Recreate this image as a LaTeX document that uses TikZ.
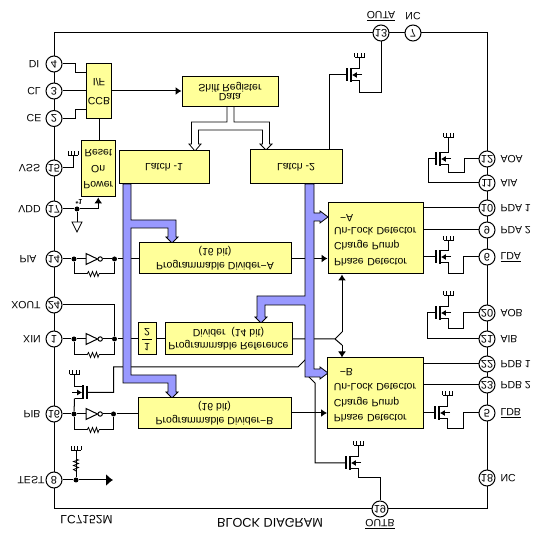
\documentclass[tikz,border=0pt]{standalone}
\usepackage{fontspec}
\setmainfont{Liberation Sans}
\usepackage{xcolor}
\usetikzlibrary{arrows.meta}
\pgfdeclarelayer{wires}
\pgfdeclarelayer{buses}
\pgfsetlayers{wires,buses,main}
\definecolor{blockyellow}{HTML}{FFFF99}
\definecolor{busblue}{HTML}{9999FF}
\newcommand{\fs}[2]{\fontsize{#1}{#2}\selectfont}
\newcommand{\ovl}[1]{$\overline{\mbox{#1}}$}
\tikzset{
  every path/.style={line width=1pt},
  flip/.style={yscale=-1,transform shape},
  pin/.style={flip,draw,circle,fill=white,minimum size=16pt,inner sep=0pt,font=\fs{11}{12}},
  lab/.style={flip,inner sep=0pt,font=\fs{10.5}{12}},
  block/.style={flip,draw,fill=blockyellow,inner sep=0pt,align=center,font=\fs{10.5}{14}},
  dot/.style={circle,fill=black,minimum size=5pt,inner sep=0pt},
  arr/.style={-{Latex[length=6pt,width=8pt]}},
  bus/.style={draw=black,fill=busblue,line width=.8pt},
  hollow/.style={draw=black,fill=white,line width=.8pt},
  gnd/.pic={\draw[line width=.7pt] (-5,0)--(5,0) (-5,0)--(-5,-4) (-1.7,0)--(-1.7,-4) (1.7,0)--(1.7,-4) (5,0)--(5,-4);},
  res/.pic={\coordinate (-a) at (-6,0); \coordinate (-b) at (6,0);
    \draw[line width=.8pt] (-6,0)--(-4.5,-2.5)--(-2.5,2.5)--(-.5,-2.5)--(1.5,2.5)--(3.5,-2.5)--(5,2.5)--(6,0);},
  inv/.pic={\coordinate (-a) at (0,0); \coordinate (-b) at (16.5,0);
    \draw (0,-5.5)--(11.5,0)--(0,5.5)--cycle (14.2,0) circle (2.2);},
  pics/fet/.style={code={
    \coordinate (-gate) at (0,0); \coordinate (-bot) at (12.5,6);
    \draw[line width=1.8pt] (0,-6.5)--(0,6.5);
    \draw[line width=1.4pt] (4,-7)--(4,7);
    \draw (4,-6)--(12.5,-6)--(12.5,-#1) (4,6)--(12.5,6);
    \draw[-{Latex[length=5pt,width=6pt]}] (15,0)--(4.8,0);
    \pic at (12.5,-#1) {gnd};}},
}
\begin{document}
\begin{tikzpicture}
[x=1pt,y=-1pt]
\useasboundingbox (0,0) rectangle (550,540);
% Outline of the chip
\node (chip) [draw,minimum width=433pt,minimum height=476pt,inner sep=0pt] at (270.5,271) {};

% Junctions
\node (d14) [dot] at (74,259) {};
\node (e14) [dot] at (114.5,259) {};
\node (d1) [dot] at (74,339) {};
\node (e1) [dot] at (114.5,339) {};
\node (d16) [dot] at (74,414) {};
\node (e16) [dot] at (113.5,414) {};
\node (d17) [dot] at (77,209) {};
\node (d8) [dot] at (76,480) {};

% Pins
\node (p4) [pin] at (54,64) {4};
\node (p3) [pin] at (54,91) {3};
\node (p2) [pin] at (54,118.5) {2};
\node (p15) [pin] at (54,168) {15};
\node (p17) [pin] at (54,209) {17};
\node (p14) [pin] at (54,259) {14};
\node (p24) [pin] at (54,305) {24};
\node (p1) [pin] at (54,339) {1};
\node (p16) [pin] at (54,414) {16};
\node (p8) [pin] at (54,480) {8};
\node (p13) [pin] at (381,33) {13};
\node (p7) [pin] at (413,33) {7};
\node (p12) [pin] at (487,159) {12};
\node (p11) [pin] at (487,183) {11};
\node (p10) [pin] at (487,208) {10};
\node (p9) [pin] at (487,230) {9};
\node (p6) [pin] at (487,257) {6};
\node (p20) [pin] at (487,313) {20};
\node (p21) [pin] at (487,339) {21};
\node (p22) [pin] at (487,364) {22};
\node (p23) [pin] at (487,385) {23};
\node (p5) [pin] at (487,413) {5};
\node (p18) [pin] at (487,478) {18};
\node (p19) [pin] at (380,509) {19};

% Pin names
\node (lDI) [lab] at (34,64) {DI};
\node (lCL) [lab] at (34,91) {CL};
\node (lCE) [lab] at (34,118.5) {CE};
\node (lVSS) [lab] at (29.5,168) {VSS};
\node (lVDD) [lab] at (29.5,209) {VDD};
\node (lPIA) [lab] at (28,259) {PIA};
\node (lXOUT) [lab] at (26,305) {XOUT};
\node (lXIN) [lab] at (32,339) {XIN};
\node (lPIB) [lab] at (32,414) {PIB};
\node (lTEST) [lab] at (31,480) {TEST};
\node (lOUTA) [lab] at (381,16) {\ovl{OUTA}};
\node (lNCa) [lab] at (413,16) {NC};
\node (lAOA) [lab,anchor=west] at (500,159) {AOA};
\node (lAIA) [lab,anchor=west] at (500,183) {AIA};
\node (lPDAa) [lab,anchor=west] at (500,208) {PDA 1};
\node (lPDAb) [lab,anchor=west] at (500,230) {PDA 2};
\node (lLDA) [lab,anchor=west] at (500,257) {\ovl{LDA}};
\node (lAOB) [lab,anchor=west] at (500,313) {AOB};
\node (lAIB) [lab,anchor=west] at (500,339) {AIB};
\node (lPDBa) [lab,anchor=west] at (500,364) {PDB 1};
\node (lPDBb) [lab,anchor=west] at (500,385) {PDB 2};
\node (lLDB) [lab,anchor=west] at (500,413) {\ovl{LDB}};
\node (lNCb) [lab,anchor=west] at (500,478) {NC};
\node (lOUTB) [lab] at (380,524) {\ovl{OUTB}};
\node (lchip) [lab,font=\fs{12}{14}] at (86.5,520) {LC7152M};
\node (ltitle) [lab,font=\fs{12.7}{14}] at (270,523) {BLOCK DIAGRAM};
\node (lstar) [lab,font=\bfseries\fs{7}{8}] at (79,201.5) {*1};

% Small parts
\pic (ia) at (86,259) {inv};
\pic (ib) at (86,339) {inv};
\pic (ic) at (86,414) {inv};
\pic (ra) at (93,274) {res};
\pic (rb) at (93,355) {res};
\pic (rc) at (93,430) {res};
\pic (rd) [rotate=90] at (76,465) {res};
\pic (fa) at (347,75) {fet=18};
\pic (fb) at (436,159) {fet=22};
\pic (fc) at (436,257) {fet=17};
\pic (fd) at (436,313) {fet=18};
\pic (fe) at (435,413) {fet=18};
\pic (ff) at (346,463) {fet=18};
\pic (fg) [xscale=-1] at (87,392.5) {fet=18};
\pic at (73,155) {gnd};
\pic at (76,450) {gnd};
\coordinate (gv) at (73,155);
\coordinate (gt) at (76,450);
\coordinate (tt) at (113,480);
\coordinate (vd) at (77,222);
\draw[line width=.8pt] (72,222)--(82,222)--(77,232)--cycle;

% Blocks
\node (ccb) [block,minimum width=24.5pt,minimum height=55pt,font=\fs{10.5}{19}] at (99,91.5) {CCB\\I/F};
\node (sreg) [block,minimum width=96pt,minimum height=30pt,font=\fs{10.5}{9.5}] at (230,91.5) {Data\\Shift Register};
\node (power) [block,minimum width=34.5pt,minimum height=56pt,font=\fs{10.5}{16}] at (98.25,169) {Power\\On\\Reset};
\node (latcha) [block,minimum width=90pt,minimum height=33pt] at (164,167.5) {Latch -1};
\node (latchb) [block,minimum width=92pt,minimum height=34pt] at (296,167) {Latch -2};
\node (diva) [block,minimum width=152pt,minimum height=31pt] at (215,258.5) {Programmable Divider−A\\(16 bit)};
\node (half) [block,minimum width=18pt,minimum height=32pt] at (147,339) {\begin{tabular}{@{\,}c@{\,}}1\\\hline 2\end{tabular}};
\node (refdiv) [block,minimum width=127pt,minimum height=32pt,font=\fs{10.5}{13}] at (228.5,339) {Programmable Reference\\Divider\ \ (14 bit)};
\node (divb) [block,minimum width=153pt,minimum height=31pt] at (214.5,413.5) {Programmable Divider−B\\(16 bit)};
\node (pda) [block,minimum width=95pt,minimum height=71pt,text width=83pt,align=left,font=\fs{10.5}{15.5}] at (375.5,238.5) {Phase Detector\\Charge Pump\\Un-Lock Detector\\[-2.5pt]\hspace*{6pt}−A\\[-12pt]\mbox{}};
\node (pdb) [block,minimum width=95.5pt,minimum height=71pt,text width=83pt,align=left,font=\fs{10.5}{15.5}] at (375.25,393.5) {Phase Detector\\Charge Pump\\Un-Lock Detector\\\hspace*{6pt}−B\\[-12pt]\mbox{}};

% Connections, drawn behind the pins, buses and blocks
\begin{pgfonlayer}{wires}
\draw (p4) -- (75.5,64) |- (ccb.west |- 0,73);
\draw (p3) -- (ccb.west |- p3);
\draw (p2) -- (75.5,118.5) |- (ccb.west |- 0,110);
\draw[arr] (ccb.east |- p3) -- (sreg.west |- p3);
\draw (ccb) -- (ccb |- power.south);
\draw (p15) -| (gv);
\draw (p17) -- (d17);
\draw[arr] (d17) -| (power.north);
\draw (d17) -- (vd);
\draw (p14) -- (d14) -- (ia-a);
\draw (ia-b) -- (e14) -- (diva.west |- e14);
\draw (d14) |- (ra-a);
\draw (ra-b) -| (e14);
\draw (p24) -| (e1);
\draw (p1) -- (d1) -- (ib-a);
\draw (ib-b) -- (e1) -- (half.west |- e1);
\draw (d1) |- (rb-a);
\draw (rb-b) -| (e1);
\draw (half) -- (refdiv);
\coordinate (fk) at (335,339);
\coordinate (fka) at (342,332);
\coordinate (fkb) at (342,345);
\draw (refdiv) -- (fk) -- (fka);
\draw (fk) -- (fkb);
\draw[arr] (fka) -- (fka |- pda.north);
\draw[arr] (fkb) -- (fkb |- pdb.south);
\draw (p16) -- (d16) -- (ic-a);
\draw (ic-b) -- (e16) -- (divb.west |- e16);
\draw (d16) |- (rc-a);
\draw (rc-b) -| (e16);
\draw (d16) -- (fg-bot);
\coordinate (gfg) at (113.5,367);
\coordinate (bsa) at (298,367);
\draw (fg-gate) -| (gfg) -- (bsa) -- (306,359);
\draw (gt) -- (rd-a);
\draw (rd-b) -- (d8);
\draw (p8) -- (d8);
\draw[-{Latex[length=7pt,width=12pt]}] (d8) -- (tt);
\draw (fa-gate) -- (329,75) -- (329,150);
\draw (fa-bot) |- (381,93) -- (p13);
\draw (fb-bot) -- (448.5,173) -| (464,159) -- (p12);
\draw (fb-gate) -- (428,159) |- (p11);
\draw (pda.east |- p10) -- (p10);
\draw (pda.east |- p9) -- (p9);
\draw (pda.east |- fc-gate) -- (fc-gate);
\draw (fc-bot) -- (448.5,274) -| (463,257) -- (p6);
\draw[arr] (diva.east |- 0,258.5) -- (pda.west |- 0,258.5);
\draw (fd-bot) -- (448.5,329) -| (463,313) -- (p20);
\draw (fd-gate) -- (427,313) |- (p21);
\draw (pdb.east |- p22) -- (p22);
\draw (pdb.east |- p23) -- (p23);
\draw (pdb.east |- fe-gate) -- (fe-gate);
\draw (fe-bot) -- (447.5,429) -| (463,413) -- (p5);
\draw[arr] (divb.east |- 0,413) -- (pdb.west |- 0,413);
\coordinate (bsb) at (315,383);
\draw (308,376) -- (bsb) |- (ff-gate);
\draw (ff-bot) -- (358.5,478) -| (p19);
\end{pgfonlayer}

% Buses
\begin{pgfonlayer}{buses}
\draw[hollow] (227,106) -- (227,122) -- (191.5,122) -- (191.5,144) -- (189,144) -- (195,151) -- (201,144) -- (198.5,144) -- (198.5,130) -- (262.5,130) -- (262.5,144) -- (260,144) -- (266,150) -- (272,144) -- (269.5,144) -- (269.5,122) -- (234,122) -- (234,106);
\draw[bus] (123,184) -- (123,383) -- (168,383) -- (168,392) -- (166,392) -- (172,398) -- (178,392) -- (176,392) -- (176,375) -- (131,375) -- (131,228) -- (168,228) -- (168,237) -- (166,237) -- (172,243) -- (178,237) -- (176,237) -- (176,220) -- (131,220) -- (131,184) -- cycle;
\draw[bus] (305,184) -- (305,296) -- (257,296) -- (257,317) -- (255,317) -- (261,323) -- (267,317) -- (265,317) -- (265,305) -- (305,305) -- (305,377) -- (320,377) -- (320,379) -- (328,373) -- (320,367) -- (320,369) -- (314,369) -- (314,221) -- (320,221) -- (320,223) -- (328,217) -- (320,211) -- (320,213) -- (314,213) -- (314,184) -- cycle;
\end{pgfonlayer}
\end{tikzpicture}
\end{document}
